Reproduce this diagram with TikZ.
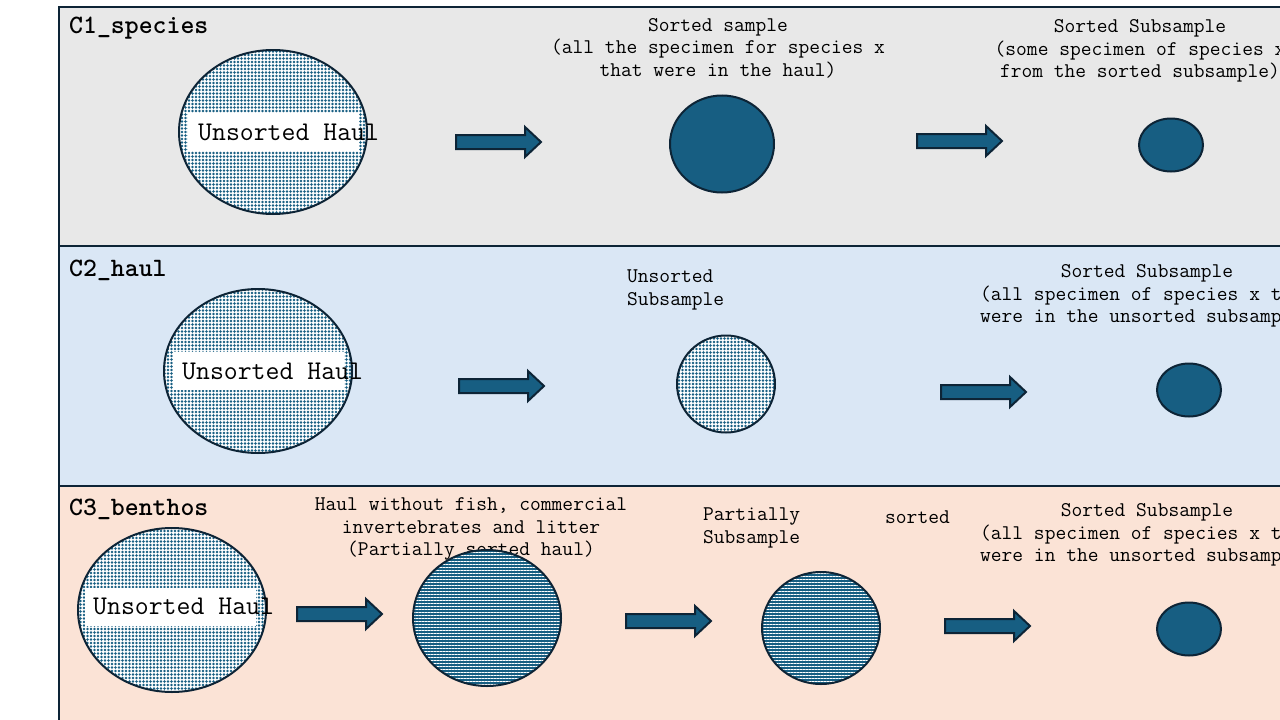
\documentclass[tikz,border=0pt]{standalone}
\usepackage{fontspec}
\usetikzlibrary{shapes.geometric,patterns.meta}
\definecolor{dkblue}{HTML}{175E82}
\definecolor{edge}{HTML}{0D2436}
\definecolor{bandgray}{HTML}{E8E8E8}
\definecolor{bandblue}{HTML}{DAE7F5}
\definecolor{bandpeach}{HTML}{FBE3D6}

\begin{document}
\begin{tikzpicture}[x=1pt,y=-1pt,
  band/.style={draw=edge,line width=2.5pt},
  haul/.style={ellipse,draw=edge,line width=2pt,inner sep=0pt,
    preaction={fill=white},pattern={Dots[distance=3.5pt,radius=1.4pt]},pattern color=dkblue},
  partial/.style={ellipse,draw=edge,line width=2pt,inner sep=0pt,
    preaction={fill=dkblue},pattern={Lines[distance=3pt,line width=0.5pt]},pattern color=white},
  sorted/.style={ellipse,draw=edge,line width=2pt,inner sep=0pt,fill=dkblue},
  hbox/.style={fill=white,inner sep=0pt,minimum width=171pt,minimum height=38pt},
  hfont/.style={font=\ttfamily\fontsize{27}{30}\selectfont,inner sep=0pt,anchor=west},
  ttl/.style={font=\ttfamily\bfseries\fontsize{26.5}{30}\selectfont,inner sep=0pt,anchor=west},
  lbl/.style={font=\ttfamily\fontsize{20.9}{22.5}\selectfont,inner sep=0pt,align=center},
  pics/barrow/.style={code={
    \draw[fill=dkblue,draw=edge,line width=2pt,line join=miter]
      (0,-7) -- (69,-7) -- (69,-15) -- (85,0) -- (69,15) -- (69,7) -- (0,7) -- cycle;}}
]
\useasboundingbox (0,0) rectangle (1280,720);
\fill[white] (0,0) rectangle (1280,720);
\clip (0,0) rectangle (1280,720);

% the three bands
\draw[band,fill=bandgray] (59,7) rectangle (1300,246);
\draw[band,fill=bandblue] (59,246) rectangle (1300,486);
\draw[band,fill=bandpeach] (59,486) rectangle (1300,740);

% C1_species
\node[ttl] (t1) at (69,28) {C1\_species};
\node[haul,minimum width=188pt,minimum height=164pt] (h1) at (273,132) {};
\node[hbox] (b1) at (273,132) {};
\node[hfont] (u1) at (198,132) {Unsorted Haul};
\pic at (456,142) {barrow};
\node[lbl] (s1) at (718,48) {Sorted sample\\(all the specimen for species x\\that were in the haul)};
\node[sorted,minimum width=104pt,minimum height=97pt] (c1) at (722,144) {};
\pic at (917,141) {barrow};
\node[lbl] (r1) at (1140,51) {Sorted Subsample\\(some specimen of species x\\from the sorted subsample)};
\node[sorted,minimum width=64pt,minimum height=53pt] (d1) at (1171,145) {};

% C2_haul
\node[ttl] (t2) at (69,270) {C2\_haul};
\node[haul,minimum width=188pt,minimum height=164pt] (h2) at (258,371) {};
\node[hbox] (b2) at (258,371) {};
\node[hfont] (u2) at (182,371) {Unsorted Haul};
\pic at (459,386) {barrow};
\node[lbl,align=left,anchor=west] (s2) at (627,290) {Unsorted\\Subsample};
\node[haul,minimum width=98pt,minimum height=97pt] (c2) at (726,384) {};
\pic at (941,392) {barrow};
\node[lbl] (r2) at (1147,296) {Sorted Subsample\\(all specimen of species x that\\were in the unsorted subsample)};
\node[sorted,minimum width=64pt,minimum height=53pt] (d2) at (1189,390) {};

% C3_benthos
\node[ttl] (t3) at (69,509) {C3\_benthos};
\node[haul,minimum width=188pt,minimum height=164pt] (h3) at (172,610) {};
\node[hbox] (b3) at (170,607) {};
\node[hfont] (u3) at (93,606) {Unsorted Haul};
\pic at (297,614) {barrow};
\node[lbl] (s3) at (471,529) {Haul without fish, commercial\\invertebrates and litter\\(Partially sorted haul)};
\node[partial,minimum width=148pt,minimum height=136pt] (c3) at (487,618) {};
\pic at (626,621) {barrow};
\node[lbl,align=left,anchor=west] (p3) at (703,528) {Partially\\Subsample};
\node[lbl,anchor=west] (q3) at (885,517) {sorted};
\node[partial,minimum width=118pt,minimum height=112pt] (e3) at (821,628) {};
\pic at (945,626) {barrow};
\node[lbl] (r3) at (1147,535) {Sorted Subsample\\(all specimen of species x that\\were in the unsorted subsample)};
\node[sorted,minimum width=64pt,minimum height=53pt] (d3) at (1189,629) {};
\end{tikzpicture}
\end{document}
